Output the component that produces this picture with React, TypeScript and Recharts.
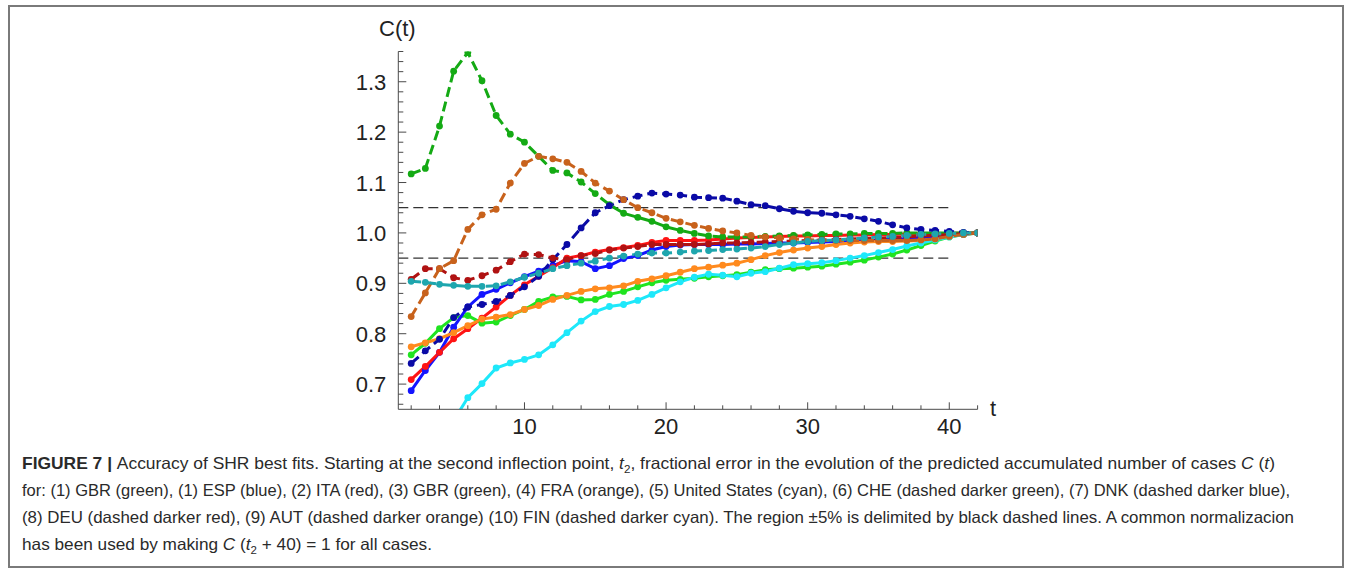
import React from "react";
import { LineChart, Line, XAxis, YAxis, ReferenceLine } from "recharts";

// t runs from 2 to 42 (t2 ... t2 + 40)
const T = [2, 3, 4, 5, 6, 7, 8, 9, 10, 11, 12, 13, 14, 15, 16, 17, 18, 19, 20, 21, 22,
  23, 24, 25, 26, 27, 28, 29, 30, 31, 32, 33, 34, 35, 36, 37, 38, 39, 40, 41, 42];

const GBR = [0.758, 0.781, 0.81, 0.832, 0.836, 0.821, 0.823, 0.836, 0.848, 0.864, 0.873, 0.874, 0.867, 0.868, 0.878, 0.884, 0.893, 0.901, 0.906, 0.908, 0.91,
  0.913, 0.915, 0.917, 0.922, 0.927, 0.929, 0.93, 0.932, 0.934, 0.938, 0.942, 0.946, 0.952, 0.958, 0.966, 0.975, 0.984, 0.992, 0.997, 1.0];
const ESP = [0.687, 0.727, 0.763, 0.813, 0.853, 0.878, 0.888, 0.901, 0.913, 0.924, 0.935, 0.945, 0.943, 0.929, 0.935, 0.949, 0.955, 0.966, 0.973, 0.976, 0.977,
  0.977, 0.977, 0.978, 0.978, 0.979, 0.98, 0.98, 0.981, 0.982, 0.983, 0.984, 0.985, 0.986, 0.988, 0.989, 0.991, 0.993, 0.995, 0.998, 1.0];
const ITA = [0.709, 0.735, 0.763, 0.79, 0.81, 0.831, 0.853, 0.876, 0.897, 0.914, 0.931, 0.95, 0.955, 0.962, 0.967, 0.971, 0.975, 0.981, 0.985, 0.985, 0.985,
  0.986, 0.988, 0.99, 0.991, 0.992, 0.993, 0.994, 0.994, 0.995, 0.995, 0.996, 0.996, 0.997, 0.997, 0.998, 0.998, 0.999, 0.999, 1.0, 1.0];
const FRA = [0.774, 0.782, 0.79, 0.802, 0.816, 0.829, 0.833, 0.838, 0.848, 0.856, 0.868, 0.876, 0.884, 0.889, 0.891, 0.895, 0.904, 0.909, 0.915, 0.922, 0.929,
  0.932, 0.936, 0.94, 0.947, 0.955, 0.961, 0.966, 0.97, 0.973, 0.977, 0.98, 0.982, 0.983, 0.983, 0.984, 0.985, 0.988, 0.993, 0.997, 1.0];
const USA = [null, null, null, 0.628, 0.673, 0.701, 0.732, 0.742, 0.749, 0.758, 0.778, 0.802, 0.825, 0.844, 0.854, 0.858, 0.866, 0.878, 0.891, 0.903, 0.912,
  0.918, 0.916, 0.913, 0.92, 0.923, 0.93, 0.937, 0.939, 0.941, 0.945, 0.95, 0.955, 0.961, 0.967, 0.974, 0.98, 0.986, 0.992, 0.997, 1.0];
const CHE = [1.117, 1.128, 1.212, 1.321, 1.358, 1.302, 1.233, 1.196, 1.18, 1.152, 1.124, 1.119, 1.101, 1.078, 1.056, 1.039, 1.031, 1.023, 1.012, 1.005, 0.999,
  0.994, 0.992, 0.992, 0.992, 0.993, 0.994, 0.995, 0.996, 0.997, 0.998, 0.998, 0.999, 0.999, 0.999, 1.0, 1.0, 1.0, 1.0, 1.0, 1.0];
const DNK = [0.741, 0.766, 0.789, 0.832, 0.853, 0.858, 0.864, 0.876, 0.893, 0.914, 0.947, 0.977, 1.01, 1.04, 1.054, 1.066, 1.073, 1.079, 1.077, 1.075, 1.071,
  1.07, 1.069, 1.063, 1.056, 1.054, 1.048, 1.043, 1.04, 1.039, 1.036, 1.033, 1.028, 1.023, 1.016, 1.01, 1.007, 1.005, 1.003, 1.001, 1.0];
const DEU = [0.908, 0.929, 0.929, 0.911, 0.906, 0.915, 0.926, 0.943, 0.958, 0.957, 0.95, 0.947, 0.955, 0.959, 0.966, 0.97, 0.973, 0.977, 0.977, 0.977, 0.977,
  0.978, 0.98, 0.98, 0.981, 0.982, 0.983, 0.984, 0.985, 0.986, 0.987, 0.988, 0.989, 0.99, 0.991, 0.992, 0.994, 0.995, 0.997, 0.998, 1.0];
const AUT = [0.834, 0.881, 0.929, 0.945, 1.007, 1.036, 1.047, 1.099, 1.138, 1.152, 1.147, 1.14, 1.122, 1.099, 1.083, 1.066, 1.05, 1.04, 1.029, 1.022, 1.015,
  1.009, 1.004, 1.0, 0.995, 0.992, 0.99, 0.988, 0.987, 0.985, 0.985, 0.985, 0.985, 0.985, 0.985, 0.985, 0.986, 0.988, 0.993, 0.997, 1.0];
const FIN = [0.904, 0.902, 0.898, 0.896, 0.894, 0.894, 0.895, 0.903, 0.912, 0.92, 0.929, 0.935, 0.94, 0.944, 0.95, 0.954, 0.958, 0.96, 0.96, 0.962, 0.964,
  0.965, 0.967, 0.968, 0.97, 0.973, 0.977, 0.98, 0.983, 0.985, 0.986, 0.988, 0.99, 0.992, 0.993, 0.995, 0.997, 0.998, 0.999, 1.0, 1.0];

const X_TICKS = [2, 4, 6, 8, 10, 12, 14, 16, 18, 20, 22, 24, 26, 28, 30, 32, 34, 36, 38, 40, 42];
const X_LABELS = [10, 20, 30, 40];
const Y_TICKS = [0.66, 0.68, 0.7, 0.72, 0.74, 0.76, 0.78, 0.8, 0.82, 0.84, 0.86, 0.88, 0.9, 0.92, 0.94, 0.96, 0.98, 1.0,
  1.02, 1.04, 1.06, 1.08, 1.1, 1.12, 1.14, 1.16, 1.18, 1.2, 1.22, 1.24, 1.26, 1.28, 1.3, 1.32, 1.34, 1.36];
const Y_LABELS = ["0.7", "0.8", "0.9", "1.0", "1.1", "1.2", "1.3"];
const BAND = [1.05, 0.95];

const SERIES = [
  { key: "gbr", values: GBR, color: "#20e420", dashed: false },
  { key: "esp", values: ESP, color: "#1414ff", dashed: false },
  { key: "ita", values: ITA, color: "#ff1414", dashed: false },
  { key: "fra", values: FRA, color: "#ff8a1e", dashed: false },
  { key: "usa", values: USA, color: "#1ee8fa", dashed: false },
  { key: "che", values: CHE, color: "#14aa14", dashed: true },
  { key: "dnk", values: DNK, color: "#0a0aa6", dashed: true },
  { key: "deu", values: DEU, color: "#b01212", dashed: true },
  { key: "aut", values: AUT, color: "#c8621c", dashed: true },
  { key: "fin", values: FIN, color: "#1ea6ae", dashed: true },
];

const rows = T.map((t, i) => {
  const r: Record<string, number | null> = { t };
  SERIES.forEach((s) => { r[s.key] = s.values[i]; });
  return r;
});

const FONT = "'Liberation Sans', Arial, sans-serif";
const AXIS = "#4a4a4a";

const XTick = (props: any) => {
  const { x, y, payload } = props;
  const major = X_LABELS.includes(payload.value);
  return (
    <g>
      <line x1={x} y1={y} x2={x} y2={y - (major ? 7 : 4)} stroke={AXIS} strokeWidth={1} />
      {major && (
        <text x={x} y={y + 25} textAnchor="middle" fontSize={22} fill="#222" fontFamily={FONT}>
          {payload.value}
        </text>
      )}
    </g>
  );
};

const YTick = (props: any) => {
  const { x, y, payload } = props;
  const label = Y_LABELS.find((l) => Math.abs(Number(l) - payload.value) < 1e-6);
  return (
    <g>
      <line x1={x} y1={y} x2={x + (label ? 8 : 5)} y2={y} stroke={AXIS} strokeWidth={1} />
      {label && (
        <text x={x - 12} y={y + 8} textAnchor="end" fontSize={22} fill="#222" fontFamily={FONT}>
          {label}
        </text>
      )}
    </g>
  );
};

export default function App() {
  return (
    <div style={{ position: "absolute", left: 0, top: 0, width: 1356, height: 575, background: "#fff", fontFamily: FONT }}>
      <div style={{ position: "absolute", left: 8, top: 5, width: 1336, height: 563, border: "2px solid #7a7a7a", boxSizing: "border-box" }} />

      <div style={{ position: "absolute", left: 0, top: 0 }}>
        <LineChart width={1010} height={450} data={rows}
          margin={{ top: 51.5, left: 338.3, right: 32.4, bottom: 10.7 }}>
          <XAxis dataKey="t" type="number" domain={[1.09, 42]} allowDataOverflow ticks={X_TICKS}
            interval={0} tickSize={0} tickMargin={0} tick={<XTick />} stroke={AXIS} height={30} />
          <YAxis type="number" domain={[0.65, 1.36]} allowDataOverflow ticks={Y_TICKS}
            interval={0} tickSize={0} tickMargin={0} tick={<YTick />} stroke={AXIS} width={60} />
          {BAND.map((b) => (
            <ReferenceLine key={b} segment={[{ x: 1.09, y: b }, { x: 40, y: b }]}
              stroke="#333" strokeWidth={1.2} strokeDasharray="10 5" ifOverflow="hidden" />
          ))}
          {SERIES.map((s) => (
            <Line key={s.key} dataKey={s.key} type="linear" stroke={s.color}
              strokeWidth={3} strokeDasharray={s.dashed ? "10 5" : undefined}
              dot={{ r: 3.4, fill: s.color, stroke: "none" }} activeDot={false}
              isAnimationActive={false} connectNulls={false} />
          ))}
        </LineChart>
      </div>

      <div style={{ position: "absolute", left: 379, top: 16, fontSize: 22, color: "#222" }}>C(t)</div>
      <div style={{ position: "absolute", left: 990, top: 396, fontSize: 22, color: "#222" }}>t</div>

      <svg style={{ position: "absolute", left: 0, top: 440 }} width={1356} height={130} fontFamily={FONT} fontSize={16.5} fill="#2a2a2a">
        <text x={22} y={29} textLength={1253} lengthAdjust="spacingAndGlyphs">
          <tspan fontWeight="bold">FIGURE 7 | </tspan>
          Accuracy of SHR best fits. Starting at the second inflection point, <tspan fontStyle="italic">t</tspan>
          <tspan fontSize={11} dy={4}>2</tspan><tspan dy={-4}>, fractional error in the evolution of the predicted accumulated number of cases </tspan>
          <tspan fontStyle="italic">C</tspan> (<tspan fontStyle="italic">t</tspan>)
        </text>
        <text x={22} y={56} textLength={1268} lengthAdjust="spacingAndGlyphs">
          for: (1) GBR (green), (1) ESP (blue), (2) ITA (red), (3) GBR (green), (4) FRA (orange), (5) United States (cyan), (6) CHE (dashed darker green), (7) DNK (dashed darker blue),
        </text>
        <text x={22} y={83} textLength={1272} lengthAdjust="spacingAndGlyphs">
          (8) DEU (dashed darker red), (9) AUT (dashed darker orange) (10) FIN (dashed darker cyan). The region  ±5% is delimited by black dashed lines. A common normalizacion
        </text>
        <text x={22} y={110} textLength={410} lengthAdjust="spacingAndGlyphs">
          has been used by making <tspan fontStyle="italic">C</tspan> (<tspan fontStyle="italic">t</tspan>
          <tspan fontSize={11} dy={4}>2</tspan><tspan dy={-4}> + 40) = 1 for all cases.</tspan>
        </text>
      </svg>
    </div>
  );
}
